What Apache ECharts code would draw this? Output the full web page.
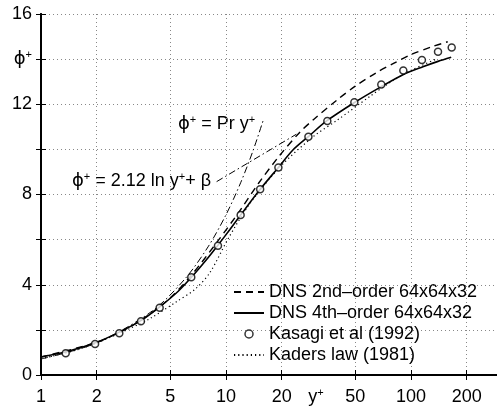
<!DOCTYPE html>
<html>
<head>
<meta charset="utf-8">
<script src="https://cdn.jsdelivr.net/npm/echarts@6/dist/echarts.min.js"></script>
<style>
  html, body { margin: 0; padding: 0; background: #fff; }
  #main { width: 497px; height: 411px; }
</style>
</head>
<body>
<div id="main"></div>
<script>
// tick labels
var xTicks = [1, 2, 5, 10, 20, 50, 100, 200];
var xTitleAt = 30.6;     // "y+" sits among the x tick labels
var yTitleAt = 14;       // "phi+" replaces the 14 label

// DNS 2nd-order 64x64x32 (dashed)
var dns2Y   = [1, 2, 3, 4, 5, 6.5, 9, 12, 15, 19.6, 25, 30, 40, 50, 65, 80, 100, 130, 158];
var dns2Phi = [0.8, 1.45, 2.12, 2.78, 3.42, 4.42, 5.92, 7.33, 8.5, 9.75, 10.75, 11.35, 12.2, 12.8, 13.4, 13.8, 14.2, 14.55, 14.77];

// DNS 4th-order 64x64x32 (solid)
var dns4Y   = [1, 1.4, 2, 2.65, 3.5, 4.4, 5.5, 6.5, 8, 9, 10.5, 12, 15.3, 19.2, 23, 28, 35, 50, 68, 90, 116, 140, 165];
var dns4Phi = [0.8, 1.05, 1.45, 1.9, 2.43, 3.03, 3.7, 4.33, 5.2, 5.73, 6.45, 7.09, 8.23, 9.2, 9.97, 10.58, 11.26, 12.1, 12.75, 13.3, 13.66, 13.9, 14.08];

// Kasagi et al (1992) (circles)
var kasY   = [1.36, 1.96, 2.65, 3.47, 4.38, 6.49, 9.05, 12.0, 15.3, 19.2, 27.9, 35.3, 49.4, 69.1, 90.9, 114.6, 140, 166];
var kasPhi = [0.96, 1.37, 1.85, 2.38, 2.98, 4.33, 5.73, 7.09, 8.23, 9.2, 10.56, 11.26, 12.09, 12.88, 13.5, 13.96, 14.33, 14.51];

// Kaders law (1981) (dotted)
var kadY   = [1, 1.5, 2, 3, 3.9, 5.4, 6.8, 8.2, 10.3, 13.5, 20, 30, 40, 60, 80, 100, 135];
var kadPhi = [0.72, 1.07, 1.42, 2.05, 2.51, 3.25, 3.8, 4.55, 6.06, 7.61, 9.3, 10.6, 11.3, 12.35, 13.05, 13.5, 13.98];

// phi+ = Pr y+ (dash-dot)
var prY   = [1, 2, 4, 6, 8, 10, 12, 14, 16];
var prPhi = [0.71, 1.42, 2.84, 4.26, 5.68, 7.1, 8.52, 9.94, 11.36];

// phi+ = 2.12 ln y+ + beta (dash-dot)
var logY   = [8.9, 24];
var logPhi = [8.57, 10.67];

function lg(v) { return Math.log10(v); }
function pts(xs, ys) {
  return xs.map(function (x, i) { return [lg(x), ys[i]]; });
}

var font = 'Liberation Sans';
var rich = {
  m: { fontSize: 18, fontFamily: font, color: '#000', lineHeight: 20 },
  g: { fontSize: 18, fontFamily: 'DejaVu Sans', color: '#000', lineHeight: 20 },
  s: { fontSize: 11, fontFamily: font, color: '#000', lineHeight: 11, verticalAlign: 'top' }
};
var PHI = '{g|\u03d5}{s|+}';

var chart = echarts.init(document.getElementById('main'));

var tickVals = xTicks.map(lg);
var labelVals = tickVals.concat([lg(xTitleAt)]);
var gridLine = { color: '#888', type: [1, 3], width: 1 };

var option = {
  animation: false,
  grid: { left: 41, right: 0, top: 14, bottom: 36 },
  legend: {
    orient: 'vertical',
    left: 228,
    top: 278,
    itemGap: 3,
    itemWidth: 30,
    itemHeight: 8,
    textStyle: { fontSize: 18, fontFamily: font, color: '#000' },
    data: [
      { name: 'DNS 2nd\u2013order 64x64x32', itemStyle: { opacity: 0 } },
      { name: 'DNS 4th\u2013order 64x64x32', itemStyle: { opacity: 0 } },
      { name: 'Kasagi et al (1992)', itemStyle: { color: '#fff', borderColor: '#000', borderWidth: 1.5 } },
      { name: 'Kaders law (1981)', itemStyle: { opacity: 0 } }
    ]
  },
  xAxis: [{
    type: 'value', position: 'bottom', min: 0, max: 2.465,
    axisLine: { lineStyle: { color: '#000', width: 2 } },
    axisTick: { inside: true, length: 5, customValues: tickVals, lineStyle: { color: '#000' } },
    axisLabel: {
      margin: 12, customValues: labelVals, color: '#000', fontSize: 18, fontFamily: font, rich: rich,
      formatter: function (v) {
        if (Math.abs(v - lg(xTitleAt)) < 1e-6) return '{m|y}{s|+}';
        return '{m|' + Math.round(Math.pow(10, v)) + '}';
      }
    },
    splitLine: { show: true, lineStyle: gridLine }
  }, {
    type: 'value', position: 'top', min: 0, max: 2.465,
    axisLine: { lineStyle: { color: '#000', width: 2 } },
    axisTick: { inside: true, length: 5, customValues: tickVals, lineStyle: { color: '#000' } },
    axisLabel: { show: false },
    splitLine: { show: false }
  }],
  yAxis: [{
    type: 'value', position: 'left', min: 0, max: 16, interval: 2,
    axisLine: { show: true, lineStyle: { color: '#000', width: 2 } },
    axisTick: { show: true, inside: true, length: 5, lineStyle: { color: '#000' } },
    axisLabel: {
      margin: 9, color: '#000', fontSize: 18, fontFamily: font, rich: rich,
      formatter: function (v) {
        if (v === yTitleAt) return PHI;
        if (v % 4 === 0) return '{m|' + v + '}';
        return '';
      }
    },
    splitLine: { show: true, lineStyle: gridLine }
  }, {
    type: 'value', position: 'right', min: 0, max: 16, interval: 2,
    axisLine: { show: true, lineStyle: { color: '#000', width: 2 } },
    axisTick: { show: true, inside: true, length: 5, lineStyle: { color: '#000' } },
    axisLabel: { show: false },
    splitLine: { show: false }
  }],
  series: [{
    name: 'DNS 2nd\u2013order 64x64x32', type: 'line', data: pts(dns2Y, dns2Phi),
    symbol: 'none', smooth: 0.3, lineStyle: { color: '#000', width: 1.4, type: [7, 5] }, itemStyle: { color: '#000' }
  }, {
    name: 'DNS 4th\u2013order 64x64x32', type: 'line', data: pts(dns4Y, dns4Phi),
    symbol: 'none', smooth: 0.3, lineStyle: { color: '#000', width: 1.6 }, itemStyle: { color: '#000' }
  }, {
    name: 'Kasagi et al (1992)', type: 'scatter', data: pts(kasY, kasPhi), z: 5,
    symbol: 'circle', symbolSize: 7,
    itemStyle: { color: '#fff', borderColor: '#000', borderWidth: 1.5 }
  }, {
    name: 'Kaders law (1981)', type: 'line', data: pts(kadY, kadPhi),
    symbol: 'none', smooth: 0.3, lineStyle: { color: '#000', width: 1.2, type: [1.2, 3] }, itemStyle: { color: '#000' }
  }, {
    name: 'Pr', type: 'line', data: pts(prY, prPhi),
    symbol: 'none', smooth: 0.3, lineStyle: { color: '#000', width: 1, type: [7, 3, 1.5, 3] }
  }, {
    name: 'log', type: 'line', data: pts(logY, logPhi),
    symbol: 'none', lineStyle: { color: '#000', width: 1, type: [7, 3, 1.5, 3] }
  }],
  graphic: [{
    type: 'text', x: 178, y: 124,
    style: { text: PHI + '{m| = Pr y}{s|+}', rich: rich, verticalAlign: 'middle' }
  }, {
    type: 'text', x: 72, y: 181,
    style: { text: PHI + '{m| = 2.12 ln y}{s|+}{m|+ \u03b2}', rich: rich, verticalAlign: 'middle' }
  }]
};

chart.setOption(option);
</script>
</body>
</html>
